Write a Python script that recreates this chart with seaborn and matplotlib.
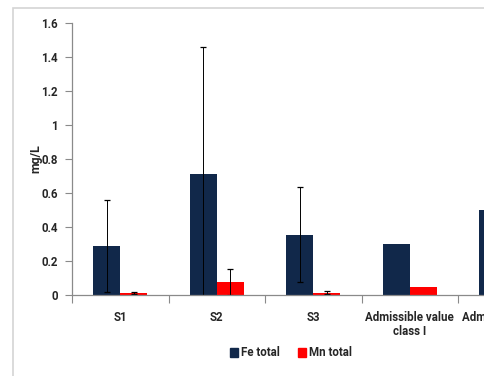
import matplotlib
matplotlib.use("Agg")
import matplotlib.pyplot as plt
import matplotlib.patches as mpatches
from matplotlib.ticker import FixedLocator
import numpy as np
import pandas as pd
import seaborn as sns

# Sampling sites and reference thresholds
categories = ["S1", "S2", "S3", "Admissible value\nclass I", "Admissible value\nclass II"]
fe_total = [0.29, 0.71, 0.355, 0.30, 0.50]
mn_total = [0.01, 0.076, 0.014, 0.05, 0.10]
fe_err = [0.27, 0.75, 0.28, np.nan, np.nan]
mn_err = [0.007, 0.077, 0.011, np.nan, np.nan]
series = ["Fe total", "Mn total"]
colors = ["#11284A", "#FF0000"]
y_ticks = [0, 0.2, 0.4, 0.6, 0.8, 1, 1.2, 1.4, 1.6]
y_tick_labels = ["0", "0.2", "0.4", "0.6", "0.8", "1", "1.2", "1.4", "1.6"]

sns.set_theme(style="white")
plt.rcParams["font.family"] = ["Roboto", "DejaVu Sans"]

FS = 8.3
FW = "bold"

df = pd.DataFrame({
    "site": categories * 2,
    "value": fe_total + mn_total,
    "err": fe_err + mn_err,
    "series": [series[0]] * len(categories) + [series[1]] * len(categories),
})

W, H = 484, 376
fig = plt.figure(figsize=(W / 100, H / 100), dpi=100)
# plot area runs past the right edge of the canvas
ax = fig.add_axes([72 / W, 1 - 295 / H, 482.5 / W, 272 / H])

sns.barplot(data=df, x="site", y="value", hue="series", palette=colors,
            width=0.56, gap=0, errorbar=None, saturation=1, ax=ax,
            legend=False, linewidth=0)

# error bars placed at the centres of the drawn bars
for container, errs in zip(ax.containers, [fe_err, mn_err]):
    for patch, e in zip(container.patches, errs):
        if np.isnan(e):
            continue
        cx = patch.get_x() + patch.get_width() / 2
        ax.errorbar(cx, patch.get_height(), yerr=e, fmt="none",
                    ecolor="black", elinewidth=0.7, capsize=2,
                    capthick=0.9)

ax.set_xlim(-0.5, len(categories) - 0.5)
ax.set_ylim(0, 1.6)
ax.set_yticks(y_ticks)
ax.set_yticklabels(y_tick_labels)
ax.xaxis.set_minor_locator(FixedLocator(np.arange(-0.5, len(categories), 1.0)))
ax.set_xticks(range(len(categories)))
ax.set_xticklabels(categories, linespacing=1.15)

spine_color = "#8A8A8A"
for side in ["top", "right"]:
    ax.spines[side].set_visible(False)
for side in ["left", "bottom"]:
    ax.spines[side].set_color(spine_color)
    ax.spines[side].set_linewidth(0.9)

ax.tick_params(axis="y", which="major", left=True, length=5, width=0.8,
               color=spine_color, pad=5, labelsize=FS)
ax.tick_params(axis="x", which="major", bottom=False, length=0, pad=11.5,
               labelsize=FS)
ax.tick_params(axis="x", which="minor", bottom=True, length=6, width=0.8,
               color=spine_color)
for lbl in ax.get_xticklabels() + ax.get_yticklabels():
    lbl.set_fontweight(FW)

ax.set_xlabel("")
ax.set_ylabel("mg/L", fontsize=FS + 0.5, fontweight=FW)
ax.yaxis.set_label_coords(-0.062, 0.5)

handles = [mpatches.Patch(color=c, label=s) for c, s in zip(colors, series)]
fig.legend(handles=handles, loc="center", bbox_to_anchor=(291 / W, 1 - 353 / H),
           ncol=2, frameon=False, handlelength=0.7,
           handleheight=0.7, handletextpad=0.25, columnspacing=1.6,
           prop={"weight": FW, "size": FS})

# light chart-area frame
fig.patches.append(mpatches.Rectangle((13 / W, -0.1), 1.2, 1 - 8 / H + 0.1,
                                      transform=fig.transFigure, fill=False,
                                      edgecolor="#D4D4D4", linewidth=1.2))

fig.savefig("out.png", dpi=100)
